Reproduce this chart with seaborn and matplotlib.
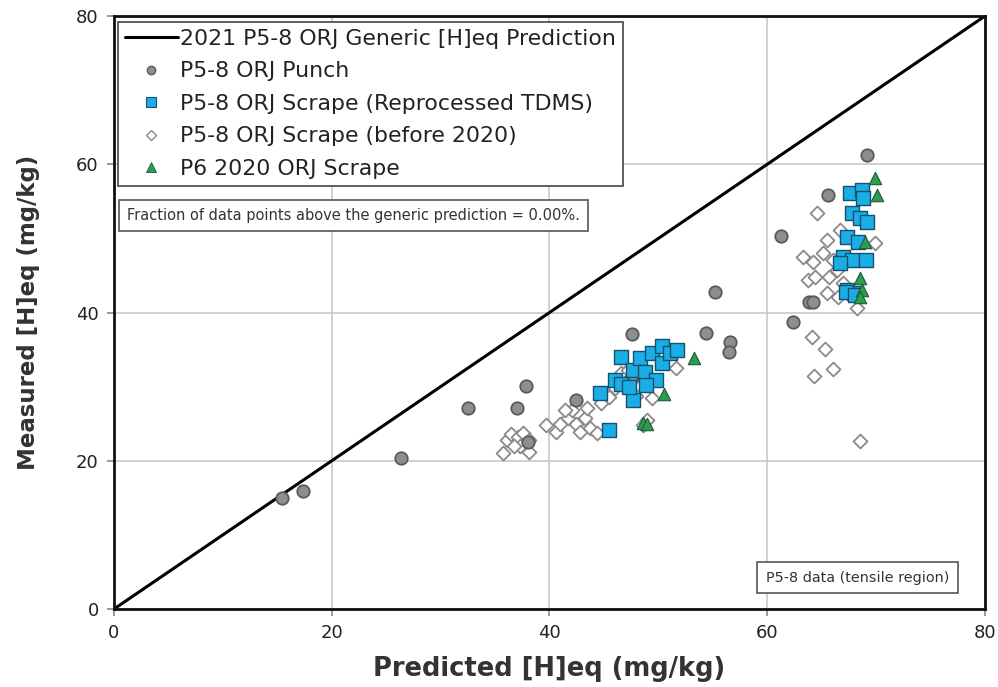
import numpy as np
import pandas as pd
import matplotlib
matplotlib.use("Agg")
import matplotlib.pyplot as plt
import seaborn as sns
from matplotlib.lines import Line2D

# ---- data ----
line_x = [0, 80]
line_y = [0, 80]

punch_x = [15.4, 17.4, 26.4, 32.5, 37.0, 37.8, 38.0, 42.4, 47.6, 47.5, 54.4, 55.2, 56.6, 56.5,
           61.3, 62.4, 63.8, 64.2, 65.6, 69.2]
punch_y = [15.0, 15.9, 20.4, 27.1, 27.1, 30.1, 22.5, 28.2, 37.1, 31.0, 37.3, 42.8, 36.0, 34.7,
           50.3, 38.7, 41.4, 41.4, 55.8, 61.3]

tdms_x = [45.5, 44.6, 46.0, 46.6, 47.7, 47.7, 48.3, 48.8, 49.4, 49.8, 50.3, 50.3, 51.1, 51.7,
          48.9, 46.6, 47.3,
          67.6, 68.7, 68.8, 67.8, 68.5, 69.2, 67.3, 68.3, 67.0, 67.8, 69.1, 66.7, 67.3, 68.0,
          67.2, 68.1]
tdms_y = [24.1, 29.1, 30.9, 34.0, 32.2, 28.2, 33.9, 32.0, 34.5, 30.9, 35.5, 33.2, 34.5, 34.9,
          30.2, 30.4, 29.9,
          56.1, 56.5, 55.4, 53.4, 52.7, 52.2, 50.2, 49.5, 47.5, 47.1, 47.1, 46.7, 43.0, 42.6,
          42.8, 42.4]

old_x = [35.7, 36.1, 36.5, 37.1, 37.6, 38.1, 38.1, 37.3, 36.7,
         39.7, 40.6, 41.0, 41.7, 42.1, 42.4, 42.8, 43.3, 43.7, 44.4, 41.4, 43.4, 44.7, 45.5,
         46.0, 46.6, 47.2, 48.3, 47.9, 49.4, 49.0, 48.6, 51.6,
         64.1, 65.3, 66.0, 64.3, 68.5, 64.6, 69.9, 65.5, 63.3, 64.2, 65.1, 66.0, 66.7, 63.7,
         64.4, 65.7, 66.4, 65.5, 66.5, 67.0, 68.2]
old_y = [21.0, 22.8, 23.6, 23.2, 23.7, 22.8, 21.2, 22.0, 22.0,
         24.8, 23.9, 25.0, 25.8, 26.8, 25.0, 23.9, 25.8, 24.4, 23.7, 26.8, 27.1, 27.8, 28.6,
         29.8, 31.8, 32.2, 31.4, 28.7, 28.5, 25.5, 24.8, 32.5,
         36.7, 35.1, 32.4, 31.4, 22.7, 53.4, 49.4, 49.8, 47.5, 46.8, 48.0, 47.1, 51.1, 44.4,
         44.8, 44.8, 45.7, 42.6, 42.1, 44.0, 40.6]

p6_x = [69.9, 70.1, 69.0, 68.5, 68.7, 68.5, 50.5, 48.6, 49.0, 53.3]
p6_y = [58.1, 55.9, 49.5, 44.7, 43.0, 42.1, 29.0, 25.1, 25.0, 33.9]

x_ticks = [0, 20, 40, 60, 80]
y_ticks = [0, 20, 40, 60, 80]

labels = ["2021 P5-8 ORJ Generic [H]eq Prediction", "P5-8 ORJ Punch",
          "P5-8 ORJ Scrape (Reprocessed TDMS)", "P5-8 ORJ Scrape (before 2020)",
          "P6 2020 ORJ Scrape"]

# ---- style ----
sns.set_style("white")
plt.rcParams['font.family'] = ['DejaVu Sans']

fig = plt.figure(figsize=(9.98, 6.87), dpi=100)
ax = fig.add_axes([0.1142, 0.1135, 0.8728, 0.8632])

ax.grid(True, color="#c8c8c8", linewidth=1.2, zorder=0)
ax.set_axisbelow(True)

sns.lineplot(x=line_x, y=line_y, ax=ax, color="black", linewidth=2.2, zorder=2)

df_old = pd.DataFrame({"x": old_x, "y": old_y})
df_punch = pd.DataFrame({"x": punch_x, "y": punch_y})
df_tdms = pd.DataFrame({"x": tdms_x, "y": tdms_y})
df_p6 = pd.DataFrame({"x": p6_x, "y": p6_y})

sns.scatterplot(data=df_old, x="x", y="y", ax=ax, marker="D", s=50, color="white",
                edgecolor="#8a8a8a", linewidth=1.3, zorder=3)
sns.scatterplot(data=df_punch, x="x", y="y", ax=ax, marker="o", s=80, color="#8e8e8e",
                edgecolor="#5a5a5a", linewidth=1.3, zorder=4)
sns.scatterplot(data=df_tdms, x="x", y="y", ax=ax, marker="s", s=95, color="#19aee6",
                edgecolor="#17506f", linewidth=1.0, zorder=5)
sns.scatterplot(data=df_p6, x="x", y="y", ax=ax, marker="^", s=80, color="#2e9a52",
                edgecolor="#1c5e30", linewidth=0.8, zorder=6)

ax.set_xlim(0, 80)
ax.set_ylim(0, 80)
ax.set_xticks(x_ticks)
ax.set_yticks(y_ticks)
ax.set_xticklabels([str(t) for t in x_ticks], fontsize=13, color="#222222")
ax.set_yticklabels([str(t) for t in y_ticks], fontsize=13, color="#222222")
ax.tick_params(axis="both", direction="out", length=5, width=1.2, color="#888888", pad=6,
               bottom=True, left=True)
ax.set_xlabel("Predicted [H]eq (mg/kg)", fontsize=18.5, fontweight="bold", color="#333333", labelpad=10)
ax.set_ylabel("Measured [H]eq (mg/kg)", fontsize=16.5, fontweight="bold", color="#333333", labelpad=26)

for sp in ax.spines.values():
    sp.set_visible(True)
    sp.set_color("#111111")
    sp.set_linewidth(2.0)

handles = [
    Line2D([0], [0], color="black", linewidth=2.2),
    Line2D([0], [0], marker="o", linestyle="none", markersize=6, markerfacecolor="#8e8e8e",
           markeredgecolor="#5a5a5a", markeredgewidth=1.0),
    Line2D([0], [0], marker="s", linestyle="none", markersize=7, markerfacecolor="#19aee6",
           markeredgecolor="#17506f", markeredgewidth=0.8),
    Line2D([0], [0], marker="D", linestyle="none", markersize=5.5, markerfacecolor="white",
           markeredgecolor="#8a8a8a", markeredgewidth=1.0),
    Line2D([0], [0], marker="^", linestyle="none", markersize=7, markerfacecolor="#2e9a52",
           markeredgecolor="#1c5e30", markeredgewidth=0.6),
]
leg = ax.legend(handles, labels, loc="upper left", bbox_to_anchor=(0.0046, 0.99),
                fontsize=15.8, frameon=True, fancybox=False, handlelength=2.4,
                handletextpad=0.1, borderpad=0.32, labelspacing=0.57, borderaxespad=0.0)
leg.get_frame().set_edgecolor("#444444")
leg.get_frame().set_linewidth(1.2)
leg.get_frame().set_alpha(1.0)
leg.set_zorder(10)
for t in leg.get_texts():
    t.set_color("#222222")

ax.text(0.015, 0.663, "Fraction of data points above the generic prediction = 0.00%.",
        transform=ax.transAxes, fontsize=10.5, color="#333333", ha="left", va="center",
        zorder=10,
        bbox=dict(boxstyle="square,pad=0.55", facecolor="white", edgecolor="#555555", linewidth=1.2))

ax.text(0.748, 0.053, "P5-8 data (tensile region)",
        transform=ax.transAxes, fontsize=10.4, color="#333333", ha="left", va="center",
        zorder=10,
        bbox=dict(boxstyle="square,pad=0.6", facecolor="white", edgecolor="#555555", linewidth=1.2))

fig.savefig("out.png", dpi=100, facecolor="white")
